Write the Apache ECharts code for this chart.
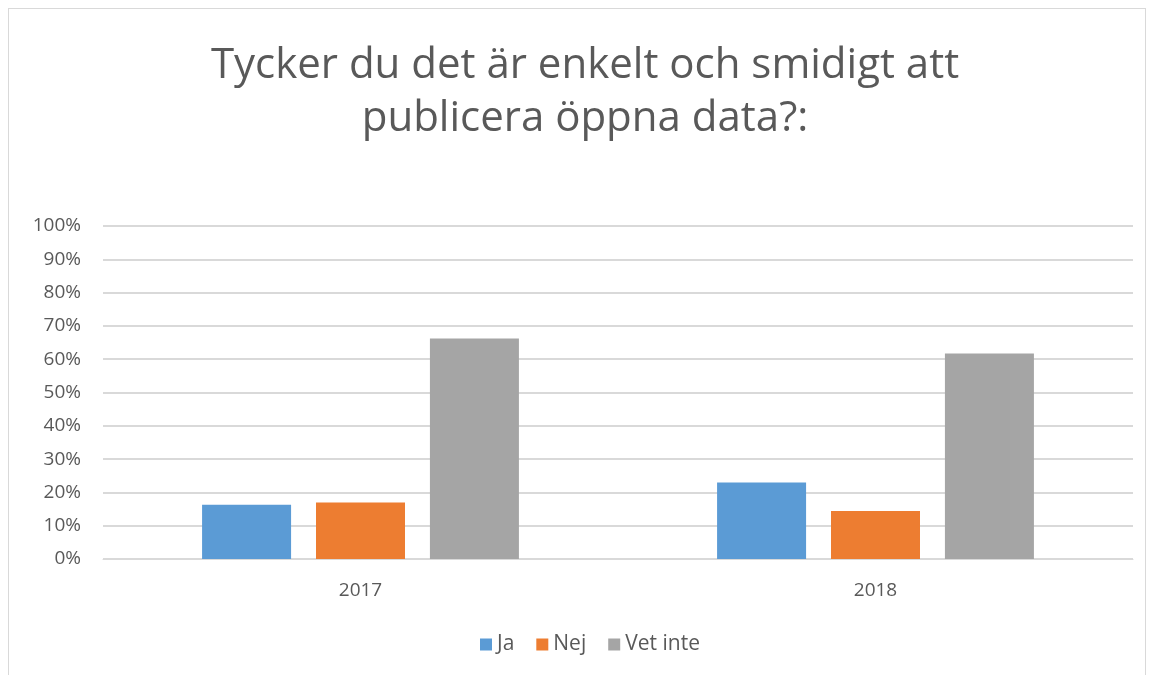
<!DOCTYPE html>
<html><head><meta charset="utf-8">
<script src="https://cdn.jsdelivr.net/npm/echarts@6/dist/echarts.min.js"></script>
<style>
html,body{margin:0;padding:0;background:#fff;}
#frame{position:absolute;left:8px;top:8px;width:1138px;height:680px;border-left:1px solid #d9d9d9;border-top:1px solid #d9d9d9;border-right:1px solid #d9d9d9;box-sizing:border-box;}
#c{position:absolute;left:0;top:0;width:1151px;height:675px;}
</style></head>
<body><div id="frame"></div><div id="c"></div>
<script>
const titleText = 'Tycker du det är enkelt och smidigt att\npublicera öppna data?:';
const categories = ['2017', '2018'];
const seriesNames = ['Ja', 'Nej', 'Vet inte'];
const ja = [16.3, 23.0];
const nej = [17.0, 14.4];
const vetInte = [66.2, 61.7];
const colors = ['#5b9bd5', '#ed7d31', '#a5a5a5'];

const chart = echarts.init(document.getElementById('c'));
const font = 'Open Sans';
chart.setOption({
  animation: false,
  color: colors,
  title: {
    text: titleText, left: 580, textAlign: 'center', top: 35,
    textStyle: {fontFamily: font, fontWeight: 'normal', fontSize: 42, color: '#595959', lineHeight: 53}
  },
  legend: {
    bottom: 15, left: 475, itemWidth: 12, itemHeight: 12, itemGap: 22,
    icon: 'rect',
    textStyle: {fontFamily: font, fontSize: 21, color: '#595959'},
    data: seriesNames
  },
  grid: {left: 103, right: 18, top: 226, bottom: 116},
  xAxis: {
    type: 'category', data: categories,
    axisLine: {lineStyle: {color: '#d9d9d9', width: 1}},
    axisTick: {show: false},
    axisLabel: {fontFamily: font, fontSize: 19, color: '#595959', margin: 22}
  },
  yAxis: {
    type: 'value', min: 0, max: 100, interval: 10,
    axisLine: {show: false}, axisTick: {show: false},
    splitLine: {lineStyle: {color: '#d9d9d9', width: 2}},
    axisLabel: {fontFamily: font, fontSize: 19, color: '#595959', margin: 22, formatter: '{value}%'}
  },
  series: [
    {name: seriesNames[0], type: 'bar', data: ja, barWidth: 89, barGap: '28%'},
    {name: seriesNames[1], type: 'bar', data: nej, barWidth: 89, barGap: '28%'},
    {name: seriesNames[2], type: 'bar', data: vetInte, barWidth: 89, barGap: '28%'}
  ]
});
</script></body></html>
